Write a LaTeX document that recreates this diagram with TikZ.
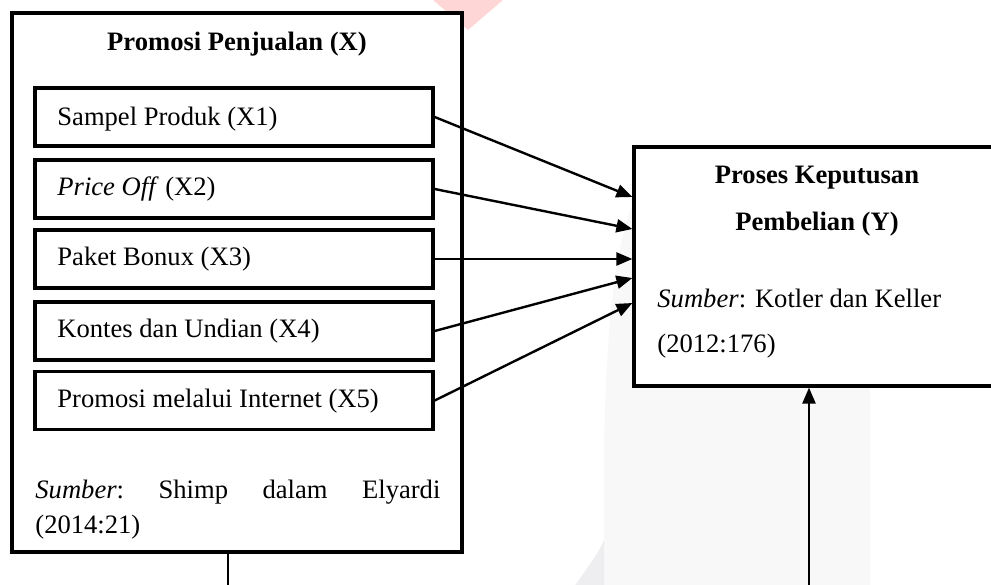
\documentclass[tikz,border=0pt]{standalone}
\usepackage{fontspec}
\setmainfont{Liberation Serif}
\usetikzlibrary{arrows.meta}
\definecolor{wmpink}{RGB}{255,214,214}
\definecolor{wmgray}{RGB}{248,248,249}
\definecolor{wmgraydark}{RGB}{238,238,240}
\tikzset{
  bigbox/.style={draw=black, line width=1.6pt, fill=white, inner sep=0pt},
  itembox/.style={draw=black, line width=1.7pt, fill=white, minimum width=199pt, minimum height=29pt, inner sep=0pt},
  txt/.style={font=\fontsize{13.3}{17.5}\selectfont, inner sep=0pt, anchor=base west},
  txtc/.style={font=\fontsize{13.3}{17.5}\selectfont, inner sep=0pt, anchor=base},
  conn/.style={line width=1.2pt, -{Triangle[length=8pt,width=6.5pt]}},
  plainline/.style={line width=1pt},
}
\begin{document}
\begin{tikzpicture}[x=0.5pt,y=-0.5pt]
\useasboundingbox (0,0) rectangle (991,584);
\clip (0,0) rectangle (991,584);
% faint watermark
\fill[wmpink] (433,0) -- (503,0) -- (468,30) -- cycle;
\fill[wmgray] (604,590) -- (604,450) .. controls (606,330) and (615,230) .. (640,190) -- (870,190) -- (870,590) -- cycle;
\fill[wmgraydark] (572,590) .. controls (585,570) and (598,555) .. (604,540) -- (604,590) -- cycle;

% left big box
\node[bigbox, minimum width=225pt, minimum height=269.5pt] (X) at (237,282.5) {};
\node[txtc] (xt) at (237,50) {\bfseries Promosi Penjualan (X)};

\node[itembox] (b1) at (234,117) {};
\node[itembox] (b2) at (234,189) {};
\node[itembox] (b3) at (234,259) {};
\node[itembox] (b4) at (234,331) {};
\node[itembox] (b5) at (234,400.5) {};

\node[txt] (l1) at (57,125) {Sampel Produk (X1)};
\node[txt] (l2) at (57,195) {\textit{Price Off} (X2)};
\node[txt] (l3) at (57,265) {Paket Bonux (X3)};
\node[txt] (l4) at (57,337) {Kontes dan Undian (X4)};
\node[txt] (l5) at (57,407) {Promosi melalui Internet (X5)};

\node[txt] (sx1) at (35,498) {\hbox to 202.5pt{\textit{Sumber}:\hfill Shimp\hfill dalam\hfill Elyardi}};
\node[txt] (sx2) at (35,533) {(2014:21)};

% right box
\node[bigbox, minimum width=183pt, minimum height=119.5pt] (Y) at (817,266.5) {};
\node[txtc] (yt1) at (817,183) {\bfseries Proses Keputusan};
\node[txtc] (yt2) at (817,230) {\bfseries Pembelian (Y)};
\node[txt] (sy1) at (657,307) {\textit{Sumber}: Kotler dan Keller};
\node[txt] (sy2) at (657,352) {(2012:176)};

% connectors
\draw[conn] (b1.east) -- ([yshift=34.75pt]Y.west);
\draw[conn] (b2.east) -- ([yshift=18.75pt]Y.west);
\draw[conn] (b3.east) -- (b3.east -| Y.west);
\draw[conn] (b4.east) -- ([yshift=-5.75pt]Y.west);
\draw[conn] (b5.east) -- ([yshift=-18.25pt]Y.west);

\coordinate (e1) at (228,590);
\coordinate (e2) at (809,590);
\draw[plainline] (X.south -| e1) -- (e1);
\draw[conn] (e2) -- (e2 |- Y.south);
\end{tikzpicture}
\end{document}
